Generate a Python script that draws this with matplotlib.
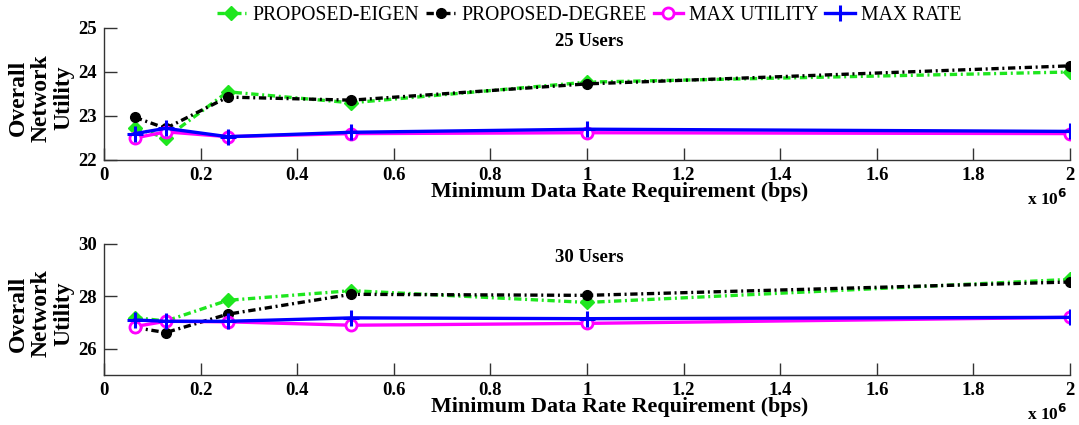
import matplotlib
matplotlib.use("Agg")
import matplotlib.pyplot as plt

# Minimum data rate requirement (bps)
rates = [64000, 128000, 256000, 512000, 1000000, 2000000]

# 25 users
eigen_25 = [22.73, 22.50, 23.55, 23.30, 23.77, 24.00]
degree_25 = [22.97, 22.72, 23.43, 23.36, 23.73, 24.14]
maxutil_25 = [22.50, 22.64, 22.53, 22.60, 22.62, 22.60]
maxrate_25 = [22.60, 22.72, 22.53, 22.63, 22.70, 22.65]

# 30 users
eigen_30 = [27.19, 27.06, 27.85, 28.22, 27.77, 28.65]
degree_30 = [26.81, 26.62, 27.32, 28.08, 28.04, 28.55]
maxutil_30 = [26.85, 27.05, 27.03, 26.90, 26.97, 27.20]
maxrate_30 = [27.10, 27.05, 27.05, 27.18, 27.15, 27.20]

series_names = ["PROPOSED-EIGEN", "PROPOSED-DEGREE", "MAX UTILITY", "MAX RATE"]
panel_titles = ["25 Users", "30 Users"]
y_limits = [(22, 25), (25, 30)]
y_ticks = [[22, 23, 24, 25], [26, 28, 30]]
x_ticks = [0, 0.2e6, 0.4e6, 0.6e6, 0.8e6, 1.0e6, 1.2e6, 1.4e6, 1.6e6, 1.8e6, 2.0e6]
x_ticklabels = ["0", "0.2", "0.4", "0.6", "0.8", "1", "1.2", "1.4", "1.6", "1.8", "2"]

plt.rcParams["font.family"] = ["Liberation Serif", "DejaVu Serif"]

dashdot = (0, (2.2, 1.1, 0.6, 1.1))
styles = [
    dict(color="#1ee61e", ls=dashdot, lw=2.4, marker="D", ms=7, mfc="#1ee61e", mec="#1ee61e"),
    dict(color="black", ls=dashdot, lw=2.4, marker="o", ms=7, mfc="black", mec="black"),
    dict(color="#ff00ff", ls="-", lw=2.4, marker="o", ms=8, mfc="white", mec="#ff00ff", mew=2),
    dict(color="#0000ff", ls="-", lw=2.4, marker="+", ms=11, mec="#0000ff", mew=2.2),
]

fig = plt.figure(figsize=(10.79, 4.25), dpi=100)
W, H = 1079, 425
ax_boxes = [(104, 28, 1070, 160), (104, 244, 1070, 375)]
data = [[eigen_25, degree_25, maxutil_25, maxrate_25],
        [eigen_30, degree_30, maxutil_30, maxrate_30]]

handles = []
for k, (l, t, r, b) in enumerate(ax_boxes):
    ax = fig.add_axes([l / W, 1 - b / H, (r - l) / W, (b - t) / H])
    for vals, st in zip(data[k], styles):
        h, = ax.plot(rates, vals, **st)
        if k == 0:
            handles.append(h)
    ax.set_xlim(0, 2e6)
    ax.set_ylim(*y_limits[k])
    ax.set_yticks(y_ticks[k])
    ax.set_xticks(x_ticks)
    ax.set_xticklabels(x_ticklabels)
    ax.spines["top"].set_visible(False)
    ax.spines["right"].set_visible(False)
    for s in ("left", "bottom"):
        ax.spines[s].set_linewidth(1.0)
        ax.spines[s].set_color("#333333")
    ax.tick_params(direction="in", length=9, width=1.0, color="#333333",
                   labelsize=13.5, pad=5)
    for lab in ax.get_xticklabels() + ax.get_yticklabels():
        lab.set_fontweight("bold")
    ax.text(0.502, 0.9, panel_titles[k], transform=ax.transAxes, ha="center",
            va="center", fontsize=13.5, fontweight="bold")
    fig.text(41 / W, 1 - ((t + b) / 2 + 4) / H, "Overall\nNetwork\nUtility",
             rotation=90, ha="center", va="center", fontsize=17,
             fontweight="bold", linespacing=1.12, multialignment="center")
    fig.text(620 / W, 1 - (b + 32) / H, "Minimum Data Rate Requirement (bps)",
             ha="center", va="center", fontsize=15.8, fontweight="bold")
    fig.text(1047 / W, 1 - (b + 39) / H, r"x 10$^{\mathbf{6}}$", ha="center",
             va="center", fontsize=12.5, fontweight="bold")

fig.legend(handles, series_names, loc="center", ncol=4,
           bbox_to_anchor=(589 / W, 1 - 15 / H), frameon=False, fontsize=14.2,
           handlelength=1.5, handletextpad=0.3, columnspacing=0.35,
           borderpad=0.1)

fig.savefig("out.png", dpi=100)
